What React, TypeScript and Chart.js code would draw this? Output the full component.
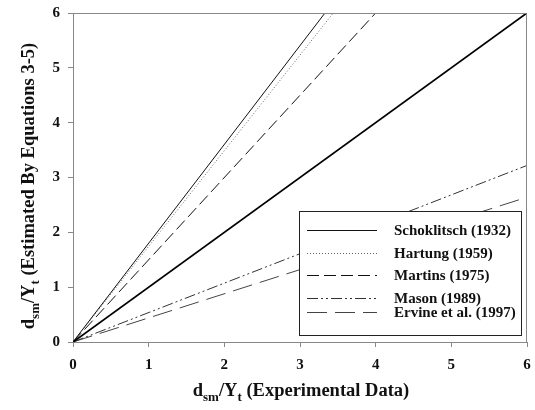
import React, { useEffect, useRef } from "react";
import { Chart, registerables } from "chart.js";

Chart.register(...registerables);

// Axis ticks
const axisTicks = [0, 1, 2, 3, 4, 5, 6];

// Line of perfect agreement
const agreementX = [0, 6];
const agreementY = [0, 6];

// Equation lines (start and end points)
const schoklitschX = [0, 3.33];
const schoklitschY = [0, 6];
const hartungX = [0, 3.44];
const hartungY = [0, 6];
const martinsX = [0, 4.0];
const martinsY = [0, 6];
const masonX = [0, 6];
const masonY = [0, 3.22];
const ervineX = [0, 6];
const ervineY = [0, 2.64];

const legendLabels = [
  "Schoklitsch (1932)",
  "Hartung (1959)",
  "Martins (1975)",
  "Mason (1989)",
  "Ervine et al. (1997)",
];

const SERIF = '"Liberation Serif", "Times New Roman", serif';

const toPoints = (xs: number[], ys: number[]) => xs.map((x, i) => ({ x, y: ys[i] }));

type Style = { color: string; width: number; dash: number[] };

const styles: Style[] = [
  { color: "#111", width: 1, dash: [] },
  { color: "#666", width: 1, dash: [1, 2] },
  { color: "#111", width: 1, dash: [12, 5] },
  { color: "#333", width: 1, dash: [11, 3, 2, 3, 2, 3] },
  { color: "#444", width: 1, dash: [20, 8] },
];

type Part = { t: string; sub?: boolean };

function drawRich(ctx: CanvasRenderingContext2D, parts: Part[], size: number, subSize: number) {
  const main = `bold ${size}px ${SERIF}`;
  const small = `bold ${subSize}px ${SERIF}`;
  let total = 0;
  for (const p of parts) {
    ctx.font = p.sub ? small : main;
    total += ctx.measureText(p.t).width;
  }
  let x = -total / 2;
  ctx.textAlign = "left";
  ctx.textBaseline = "alphabetic";
  for (const p of parts) {
    ctx.font = p.sub ? small : main;
    ctx.fillText(p.t, x, p.sub ? 5 : 0);
    x += ctx.measureText(p.t).width;
  }
}

const decorPlugin = {
  id: "decor",
  afterDatasetsDraw(chart: any) {
    const ctx: CanvasRenderingContext2D = chart.ctx;
    const a = chart.chartArea;
    ctx.save();
    // top and right frame
    ctx.strokeStyle = "#888";
    ctx.lineWidth = 1;
    ctx.setLineDash([]);
    ctx.beginPath();
    ctx.moveTo(a.left, a.top + 0.5);
    ctx.lineTo(a.right - 0.5, a.top + 0.5);
    ctx.lineTo(a.right - 0.5, a.bottom);
    ctx.stroke();

    // legend box
    const bx = 299.5, by = 211.5, bw = 222, bh = 124;
    ctx.fillStyle = "#fff";
    ctx.fillRect(bx, by, bw, bh);
    ctx.strokeStyle = "#222";
    ctx.strokeRect(bx, by, bw, bh);
    const rows = [230, 253, 275, 298, 312];
    legendLabels.forEach((label, i) => {
      const s = styles[i];
      const y = rows[i] + 0.5;
      ctx.strokeStyle = s.color;
      ctx.lineWidth = s.width;
      ctx.setLineDash(s.dash);
      ctx.beginPath();
      ctx.moveTo(307, y);
      ctx.lineTo(377, y);
      ctx.stroke();
      ctx.setLineDash([]);
      ctx.fillStyle = "#111";
      ctx.font = `bold 15px ${SERIF}`;
      ctx.textAlign = "left";
      ctx.textBaseline = "middle";
      ctx.fillText(label, 394, rows[i] + 1);
    });

    // axis titles with subscripts
    ctx.fillStyle = "#111";
    ctx.save();
    ctx.translate((a.left + a.right) / 2 + 1, 396);
    drawRich(
      ctx,
      [{ t: "d" }, { t: "sm", sub: true }, { t: "/Y" }, { t: "t", sub: true }, { t: " (Experimental Data)" }],
      18.5,
      13
    );
    ctx.restore();

    ctx.save();
    ctx.translate(34, 186);
    ctx.rotate(-Math.PI / 2);
    drawRich(
      ctx,
      [{ t: "d" }, { t: "sm", sub: true }, { t: "/Y" }, { t: "t", sub: true }, { t: " (Estimated By Equations 3-5)" }],
      18.5,
      13
    );
    ctx.restore();
    ctx.restore();
  },
};

export default function App() {
  const canvasRef = useRef<HTMLCanvasElement | null>(null);

  useEffect(() => {
    if (!canvasRef.current) return;
    const series = [
      toPoints(schoklitschX, schoklitschY),
      toPoints(hartungX, hartungY),
      toPoints(martinsX, martinsY),
      toPoints(masonX, masonY),
      toPoints(ervineX, ervineY),
    ];
    const datasets: any[] = [
      {
        label: "1:1",
        data: toPoints(agreementX, agreementY),
        borderColor: "#000",
        borderWidth: 1.8,
        showLine: true,
        pointRadius: 0,
      },
      ...series.map((data, i) => ({
        label: legendLabels[i],
        data,
        borderColor: styles[i].color,
        borderWidth: styles[i].width,
        borderDash: styles[i].dash,
        showLine: true,
        pointRadius: 0,
      })),
    ];

    const tickFont = { family: SERIF, size: 15, weight: "bold" as const };
    const chart = new Chart(canvasRef.current, {
      type: "scatter",
      data: { datasets },
      options: {
        animation: false,
        responsive: false,
        layout: { padding: { top: 13, right: 8, left: 0, bottom: 0 } },
        plugins: { legend: { display: false }, tooltip: { enabled: false } },
        scales: {
          x: {
            type: "linear",
            min: 0,
            max: 6,
            afterBuildTicks: (s: any) => {
              s.ticks = axisTicks.map((v) => ({ value: v }));
            },
            afterFit: (s: any) => {
              s.height = 68;
              s.paddingLeft = 0;
              s.paddingRight = 0;
            },
            ticks: { font: tickFont, color: "#111", padding: 9 },
            grid: { drawOnChartArea: false, tickLength: 5, color: "#888" },
            border: { color: "#888" },
          },
          y: {
            type: "linear",
            min: 0,
            max: 6,
            afterBuildTicks: (s: any) => {
              s.ticks = axisTicks.map((v) => ({ value: v }));
            },
            afterFit: (s: any) => {
              s.width = 73;
              s.paddingTop = 0;
              s.paddingBottom = 0;
            },
            ticks: { font: tickFont, color: "#111", padding: 8 },
            grid: { drawOnChartArea: false, tickLength: 5, color: "#888" },
            border: { color: "#888" },
          },
        },
      },
      plugins: [decorPlugin],
    });
    return () => chart.destroy();
  }, []);

  return (
    <div style={{ position: "fixed", left: 0, top: 0, width: 535, height: 410, background: "#fff" }}>
      <canvas ref={canvasRef} width={535} height={410} />
    </div>
  );
}
